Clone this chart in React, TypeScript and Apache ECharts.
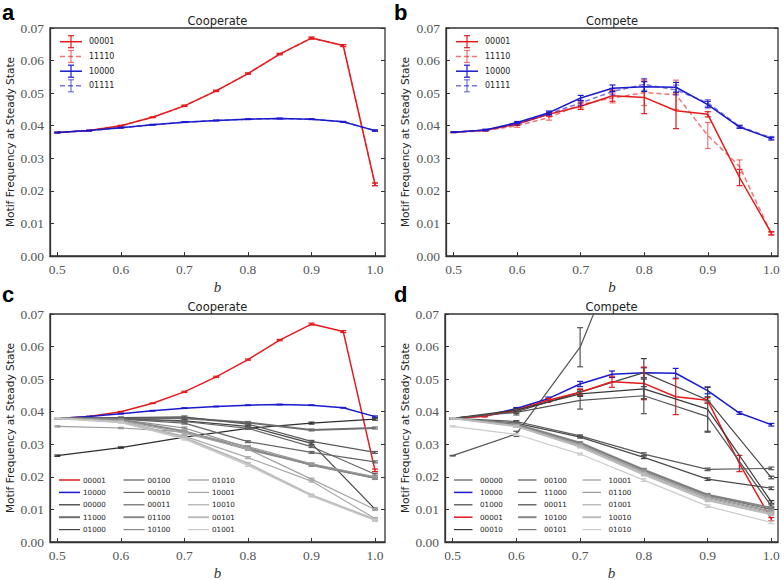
import React, { useEffect, useRef } from 'react';
import * as echarts from 'echarts';

// ---------- x positions ----------
const B_FINE = [0.5, 0.55, 0.6, 0.65, 0.7, 0.75, 0.8, 0.85, 0.9, 0.95, 1.0];
const B_COARSE = [0.5, 0.6, 0.7, 0.8, 0.9, 1.0];
const X_TICKS = [0.5, 0.6, 0.7, 0.8, 0.9, 1.0];

// ---------- panel a / c : Cooperate ----------
const coop_00001 = [0.0379, 0.0385, 0.0400, 0.0426, 0.0461, 0.0507, 0.0560, 0.0620, 0.0669, 0.0646, 0.0220];
const coop_00001_err = [0.0001, 0.0001, 0.0001, 0.0001, 0.0002, 0.0002, 0.0002, 0.0002, 0.0003, 0.0003, 0.0004];
const coop_11110 = [0.0379, 0.0385, 0.0400, 0.0426, 0.0461, 0.0507, 0.0560, 0.0620, 0.0669, 0.0646, 0.0220];
const coop_10000 = [0.0379, 0.0385, 0.0394, 0.0403, 0.0411, 0.0416, 0.0420, 0.0422, 0.0420, 0.0412, 0.0385];
const coop_10000_err = [0.0001, 0.0001, 0.0001, 0.0001, 0.0001, 0.0001, 0.0001, 0.0001, 0.0001, 0.0001, 0.0002];
const coop_01111 = [0.0379, 0.0385, 0.0394, 0.0403, 0.0411, 0.0416, 0.0420, 0.0422, 0.0420, 0.0412, 0.0385];

// panel c grey motifs (b = 0.5 .. 1.0 step 0.1)
const c_00000 = [0.0265, 0.0290, 0.0322, 0.0349, 0.0365, 0.0377];
const c_11000 = [0.0380, 0.0380, 0.0380, 0.0367, 0.0344, 0.0350];
const c_01000 = [0.0380, 0.0378, 0.0372, 0.0355, 0.0303, 0.0101];
const c_00100 = [0.0380, 0.0382, 0.0384, 0.0362, 0.0309, 0.0275];
const c_00010 = [0.0380, 0.0378, 0.0370, 0.0349, 0.0293, 0.0208];
const c_00011 = [0.0380, 0.0377, 0.0365, 0.0308, 0.0275, 0.0246];
const c_01100 = [0.0380, 0.0375, 0.0340, 0.0285, 0.0238, 0.0197];
const c_10100 = [0.0380, 0.0376, 0.0350, 0.0290, 0.0235, 0.0195];
const c_01010 = [0.0355, 0.0350, 0.0338, 0.0293, 0.0240, 0.0200];
const c_10001 = [0.0380, 0.0372, 0.0334, 0.0285, 0.0193, 0.0100];
const c_10010 = [0.0380, 0.0370, 0.0325, 0.0259, 0.0187, 0.0072];
const c_00101 = [0.0380, 0.0368, 0.0320, 0.0241, 0.0144, 0.0069];
const c_01001 = [0.0380, 0.0367, 0.0316, 0.0235, 0.0141, 0.0066];
const c_grey_err = [0.0002, 0.0002, 0.0003, 0.0003, 0.0003, 0.0003];

// ---------- panel b / d : Compete ----------
const comp_00001 = [0.0380, 0.0386, 0.0405, 0.0435, 0.0460, 0.0492, 0.0487, 0.0446, 0.0435, 0.0241, 0.0070];
const comp_00001_err = [0.0001, 0.0002, 0.0004, 0.0006, 0.0010, 0.0017, 0.0050, 0.0055, 0.0008, 0.0025, 0.0005];
const comp_11110 = [0.0380, 0.0385, 0.0400, 0.0425, 0.0465, 0.0485, 0.0502, 0.0495, 0.0370, 0.0275, 0.0068];
const comp_11110_err = [0.0001, 0.0002, 0.0005, 0.0008, 0.0010, 0.0015, 0.0040, 0.0045, 0.0040, 0.0020, 0.0004];
const comp_10000 = [0.0380, 0.0387, 0.0410, 0.0440, 0.0485, 0.0515, 0.0520, 0.0518, 0.0465, 0.0396, 0.0360];
const comp_10000_err = [0.0001, 0.0002, 0.0003, 0.0005, 0.0008, 0.0010, 0.0015, 0.0015, 0.0010, 0.0004, 0.0004];
const comp_01111 = [0.0380, 0.0387, 0.0405, 0.0437, 0.0470, 0.0505, 0.0527, 0.0510, 0.0470, 0.0398, 0.0363];
const comp_01111_err = [0.0001, 0.0002, 0.0003, 0.0005, 0.0008, 0.0010, 0.0018, 0.0015, 0.0010, 0.0004, 0.0004];

// panel d grey motifs
const d_00000_x = [0.5, 0.6, 0.7, 0.8];
const d_00000 = [0.0265, 0.0332, 0.0598, 0.1080];
const d_00000_err = [0.0001, 0.0008, 0.0060, 0];
const d_01000 = [0.0380, 0.0400, 0.0460, 0.0520, 0.0436, 0.0198];
const d_01000_err = [0.0002, 0.0005, 0.0008, 0.0043, 0.0010, 0.0004];
const d_00010 = [0.0380, 0.0405, 0.0455, 0.0470, 0.0408, 0.0123];
const d_00010_err = [0.0002, 0.0005, 0.0008, 0.0030, 0.0068, 0.0004];
const d_00100 = [0.0380, 0.0398, 0.0435, 0.0449, 0.0385, 0.0110];
const d_00100_err = [0.0002, 0.0008, 0.0027, 0.0055, 0.0048, 0.0004];
const d_11000 = [0.0380, 0.0370, 0.0326, 0.0270, 0.0223, 0.0226];
const d_00011 = [0.0380, 0.0365, 0.0322, 0.0260, 0.0193, 0.0165];
const d_10100 = [0.0380, 0.0362, 0.0305, 0.0222, 0.0145, 0.0105];
const d_00101 = [0.0380, 0.0360, 0.0303, 0.0220, 0.0143, 0.0100];
const d_10001 = [0.0380, 0.0358, 0.0300, 0.0217, 0.0140, 0.0095];
const d_01100 = [0.0380, 0.0357, 0.0298, 0.0214, 0.0137, 0.0092];
const d_01001 = [0.0380, 0.0356, 0.0295, 0.0210, 0.0133, 0.0088];
const d_10010 = [0.0380, 0.0355, 0.0292, 0.0207, 0.0128, 0.0085];
const d_01010 = [0.0355, 0.0330, 0.0270, 0.0190, 0.0110, 0.0060];
const d_grey_err = [0.0002, 0.0003, 0.0003, 0.0004, 0.0004, 0.0004];

const Y_TICKS = [0, 0.01, 0.02, 0.03, 0.04, 0.05, 0.06, 0.07];

// ---------- styling ----------
const RED = '#e41a1c';
const BLUE = '#1a1acc';
const RED_L = 'rgba(228,26,28,0.6)';
const BLUE_L = 'rgba(26,26,204,0.6)';
const AX = '#333';
const TICK_FONT = 'Liberation Serif';
const SANS = 'DejaVu Sans';

type S = { name: string; xs: number[]; ys: number[]; err: number[]; color: string; width: number; dashed?: boolean };

const GRIDS = [
  { left: 50, top: 28, width: 335, height: 228, xmin: 0.4885, xmax: 1.0157 },
  { left: 446, top: 28, width: 332, height: 228, xmin: 0.488, xmax: 1.0105 },
  { left: 50, top: 314, width: 335, height: 228, xmin: 0.4885, xmax: 1.0157 },
  { left: 445, top: 314, width: 333, height: 228, xmin: 0.488, xmax: 1.0105 },
];

const panelA: S[] = [
  { name: '00001', xs: B_FINE, ys: coop_00001, err: coop_00001_err, color: RED, width: 1.5 },
  { name: '11110', xs: B_FINE, ys: coop_11110, err: coop_00001_err, color: RED_L, width: 1.5, dashed: true },
  { name: '10000', xs: B_FINE, ys: coop_10000, err: coop_10000_err, color: BLUE, width: 1.5 },
  { name: '01111', xs: B_FINE, ys: coop_01111, err: coop_10000_err, color: BLUE_L, width: 1.5, dashed: true },
];
const panelB: S[] = [
  { name: '00001', xs: B_FINE, ys: comp_00001, err: comp_00001_err, color: RED, width: 1.5 },
  { name: '11110', xs: B_FINE, ys: comp_11110, err: comp_11110_err, color: RED_L, width: 1.5, dashed: true },
  { name: '10000', xs: B_FINE, ys: comp_10000, err: comp_10000_err, color: BLUE, width: 1.5 },
  { name: '01111', xs: B_FINE, ys: comp_01111, err: comp_01111_err, color: BLUE_L, width: 1.5, dashed: true },
];
const panelC: S[] = [
  { name: '00001', xs: B_FINE, ys: coop_00001, err: coop_00001_err, color: RED, width: 1.5 },
  { name: '10000', xs: B_FINE, ys: coop_10000, err: coop_10000_err, color: BLUE, width: 1.5 },
  { name: '00000', xs: B_COARSE, ys: c_00000, err: c_grey_err, color: '#2e2e2e', width: 1.2 },
  { name: '11000', xs: B_COARSE, ys: c_11000, err: c_grey_err, color: '#6e6e6e', width: 2 },
  { name: '01000', xs: B_COARSE, ys: c_01000, err: c_grey_err, color: '#444444', width: 1.2 },
  { name: '00100', xs: B_COARSE, ys: c_00100, err: c_grey_err, color: '#5a5a5a', width: 1.2 },
  { name: '00010', xs: B_COARSE, ys: c_00010, err: c_grey_err, color: '#666666', width: 1.2 },
  { name: '00011', xs: B_COARSE, ys: c_00011, err: c_grey_err, color: '#666666', width: 1.2 },
  { name: '01100', xs: B_COARSE, ys: c_01100, err: c_grey_err, color: '#8a8a8a', width: 2 },
  { name: '10100', xs: B_COARSE, ys: c_10100, err: c_grey_err, color: '#8a8a8a', width: 1.2 },
  { name: '01010', xs: B_COARSE, ys: c_01010, err: c_grey_err, color: '#999999', width: 1.2 },
  { name: '10001', xs: B_COARSE, ys: c_10001, err: c_grey_err, color: '#a5a5a5', width: 1.2 },
  { name: '10010', xs: B_COARSE, ys: c_10010, err: c_grey_err, color: '#aaaaaa', width: 1.2 },
  { name: '00101', xs: B_COARSE, ys: c_00101, err: c_grey_err, color: '#bbbbbb', width: 2 },
  { name: '01001', xs: B_COARSE, ys: c_01001, err: c_grey_err, color: '#c8c8c8', width: 1.2 },
];
const panelD: S[] = [
  { name: '00000', xs: d_00000_x, ys: d_00000, err: d_00000_err, color: '#555555', width: 1.2 },
  { name: '10000', xs: B_FINE, ys: comp_10000, err: comp_10000_err, color: BLUE, width: 1.5 },
  { name: '01000', xs: B_COARSE, ys: d_01000, err: d_01000_err, color: '#444444', width: 1.2 },
  { name: '00001', xs: B_FINE, ys: comp_00001, err: comp_00001_err, color: RED, width: 1.5 },
  { name: '00010', xs: B_COARSE, ys: d_00010, err: d_00010_err, color: '#3a3a3a', width: 1.2 },
  { name: '00100', xs: B_COARSE, ys: d_00100, err: d_00100_err, color: '#555555', width: 1.2 },
  { name: '11000', xs: B_COARSE, ys: d_11000, err: d_grey_err, color: '#5a5a5a', width: 1.2 },
  { name: '00011', xs: B_COARSE, ys: d_00011, err: d_grey_err, color: '#4a4a4a', width: 1.2 },
  { name: '10100', xs: B_COARSE, ys: d_10100, err: d_grey_err, color: '#888888', width: 2 },
  { name: '00101', xs: B_COARSE, ys: d_00101, err: d_grey_err, color: '#777777', width: 1.2 },
  { name: '10001', xs: B_COARSE, ys: d_10001, err: d_grey_err, color: '#999999', width: 1.2 },
  { name: '01100', xs: B_COARSE, ys: d_01100, err: d_grey_err, color: '#999999', width: 1.2 },
  { name: '01001', xs: B_COARSE, ys: d_01001, err: d_grey_err, color: '#aaaaaa', width: 1.2 },
  { name: '10010', xs: B_COARSE, ys: d_10010, err: d_grey_err, color: '#bbbbbb', width: 2 },
  { name: '01010', xs: B_COARSE, ys: d_01010, err: d_grey_err, color: '#cccccc', width: 1.2 },
];

function buildSeries(k: number, list: S[]) {
  const out: any[] = [];
  list.forEach((s, idx) => {
    out.push({
      type: 'line',
      name: s.name + '_' + k,
      xAxisIndex: k,
      yAxisIndex: 2 * k,
      data: s.xs.map((x, i) => [x, s.ys[i]]),
      symbol: 'none',
      silent: true,
      clip: true,
      z: 2 + idx * 0.01,
      lineStyle: { color: s.color, width: s.width, type: s.dashed ? [5, 3] : 'solid' },
      itemStyle: { color: s.color },
    });
    const color = s.color;
    out.push({
      type: 'custom',
      name: s.name + '_err_' + k,
      xAxisIndex: k,
      yAxisIndex: 2 * k,
      coordinateSystem: 'cartesian2d',
      silent: true,
      clip: true,
      z: 2 + idx * 0.01,
      encode: { x: 0, y: [1, 2] },
      data: s.xs
        .map((x, i) => [x, s.ys[i] - s.err[i], s.ys[i] + s.err[i]])
        .filter((_, i) => s.err[i] > 0),
      renderItem: (params: any, api: any) => {
        const x = api.value(0);
        const p1 = api.coord([x, api.value(2)]);
        const p2 = api.coord([x, api.value(1)]);
        const w = 3;
        const st = { stroke: color, lineWidth: 1.2 };
        return {
          type: 'group',
          children: [
            { type: 'line', shape: { x1: p1[0], y1: p1[1], x2: p2[0], y2: p2[1] }, style: st },
            { type: 'line', shape: { x1: p1[0] - w, y1: p1[1], x2: p1[0] + w, y2: p1[1] }, style: st },
            { type: 'line', shape: { x1: p2[0] - w, y1: p2[1], x2: p2[0] + w, y2: p2[1] }, style: st },
          ],
        };
      },
    });
  });
  return out;
}

function txt(x: number, y: number, text: string, font: string, fill: string, align = 'left', valign = 'middle', rotation = 0) {
  return {
    type: 'text',
    x,
    y,
    rotation,
    silent: true,
    z: 10,
    style: { text, font, fill, textAlign: align, textVerticalAlign: valign },
  };
}
function ln(x1: number, y1: number, x2: number, y2: number, color: string, width: number, dashed = false) {
  return {
    type: 'line',
    silent: true,
    z: 10,
    shape: { x1, y1, x2, y2 },
    style: { stroke: color, lineWidth: width, lineDash: dashed ? [5, 3] : null },
  };
}

function smallLegend(list: S[], lineX: number, textX: number) {
  const rows = [41.7, 56.5, 71.2, 85.8];
  const els: any[] = [];
  list.forEach((s, i) => {
    const y = rows[i];
    els.push(ln(lineX, y, lineX + 22, y, s.color, 1.5, !!s.dashed));
    const xm = lineX + 11;
    els.push(ln(xm, y - 6, xm, y + 6, s.color, 1.2));
    els.push(ln(xm - 3, y - 6, xm + 3, y - 6, s.color, 1.2));
    els.push(ln(xm - 3, y + 6, xm + 3, y + 6, s.color, 1.2));
    els.push(txt(textX, y, s.name, '8px "' + SANS + '"', '#222'));
  });
  return els;
}

function bigLegend(list: S[], cols: number[], len: number, textOff: number) {
  const rows = [480, 492.4, 504.8, 517.2, 529.6];
  const els: any[] = [];
  list.forEach((s, i) => {
    const c = Math.floor(i / 5);
    const r = i % 5;
    const y = rows[r];
    const x = cols[c];
    els.push(ln(x, y, x + len, y, s.color, s.width));
    els.push(txt(x + textOff, y, s.name, '7.2px "' + SANS + '"', '#222'));
  });
  return els;
}

const App: React.FC = () => {
  const ref = useRef<HTMLDivElement>(null);
  useEffect(() => {
    document.body.style.margin = '0';
    if (!ref.current) return;
    const chart = echarts.init(ref.current, undefined, { renderer: 'svg' });

    const grid = GRIDS.map((g) => ({
      left: g.left,
      top: g.top,
      width: g.width,
      height: g.height,
      show: true,
      borderColor: AX,
      borderWidth: 1.3,
      backgroundColor: 'transparent',
      containLabel: false,
    }));
    const xAxis = GRIDS.map((g, k) => ({
      type: 'value',
      gridIndex: k,
      min: g.xmin,
      max: g.xmax,
      axisLine: { show: true, lineStyle: { color: AX, width: 1.3 } },
      axisTick: { show: true, inside: true, length: 4, customValues: X_TICKS, lineStyle: { color: AX } },
      axisLabel: {
        show: true,
        customValues: X_TICKS,
        formatter: (v: number) => v.toFixed(1),
        fontFamily: TICK_FONT,
        fontSize: 13.5,
        color: '#555',
        margin: 6,
      },
      splitLine: { show: false },
    }));
    const yAxis: any[] = [];
    GRIDS.forEach((g, k) => {
      yAxis.push({
        type: 'value',
        gridIndex: k,
        position: 'left',
        min: 0,
        max: 0.07,
        interval: 0.01,
        axisLine: { show: true, lineStyle: { color: AX, width: 1.3 } },
        axisTick: { show: true, inside: true, length: 4, lineStyle: { color: AX } },
        axisLabel: {
          show: true,
          formatter: (v: number) => v.toFixed(2),
          fontFamily: TICK_FONT,
          fontSize: 13.5,
          color: '#555',
          margin: 6,
        },
        splitLine: { show: false },
      });
      yAxis.push({
        type: 'value',
        gridIndex: k,
        position: 'right',
        min: 0,
        max: 0.07,
        interval: 0.01,
        axisLine: { show: false },
        axisTick: { show: true, inside: true, length: 4, lineStyle: { color: AX } },
        axisLabel: { show: false },
        splitLine: { show: false },
      });
    });

    const series = [
      ...buildSeries(0, panelA),
      ...buildSeries(1, panelB),
      ...buildSeries(2, panelC),
      ...buildSeries(3, panelD),
    ];

    const titleFont = '11.5px "' + SANS + '"';
    const ylabFont = '10.6px "' + SANS + '"';
    const letterFont = 'bold 22px "Liberation Sans"';
    const bFont = 'italic 15px "' + TICK_FONT + '"';
    const YLAB = 'Motif Frequency at Steady State';

    const graphic: any[] = [
      txt(2, 12, 'a', letterFont, '#000', 'left', 'middle'),
      txt(394, 12, 'b', letterFont, '#000', 'left', 'middle'),
      txt(2, 294, 'c', letterFont, '#000', 'left', 'middle'),
      txt(394, 294, 'd', letterFont, '#000', 'left', 'middle'),
      txt(217.5, 20.5, 'Cooperate', titleFont, '#222', 'center', 'middle'),
      txt(612, 20.5, 'Compete', titleFont, '#222', 'center', 'middle'),
      txt(217.5, 306.5, 'Cooperate', titleFont, '#222', 'center', 'middle'),
      txt(611.5, 306.5, 'Compete', titleFont, '#222', 'center', 'middle'),
      txt(10, 142, YLAB, ylabFont, '#222', 'center', 'middle', Math.PI / 2),
      txt(405, 142, YLAB, ylabFont, '#222', 'center', 'middle', Math.PI / 2),
      txt(10, 428, YLAB, ylabFont, '#222', 'center', 'middle', Math.PI / 2),
      txt(405, 428, YLAB, ylabFont, '#222', 'center', 'middle', Math.PI / 2),
      txt(217.5, 287, 'b', bFont, '#333', 'center', 'middle'),
      txt(612, 287, 'b', bFont, '#333', 'center', 'middle'),
      txt(217.5, 573, 'b', bFont, '#333', 'center', 'middle'),
      txt(611.5, 573, 'b', bFont, '#333', 'center', 'middle'),
      ...smallLegend(panelA, 60, 89),
      ...smallLegend(panelB, 456, 485),
      ...bigLegend(panelC, [59, 123.5, 188], 21, 24),
      ...bigLegend(panelD, [454, 518, 582.5], 18.5, 26),
    ];

    chart.setOption({
      animation: false,
      backgroundColor: '#fff',
      grid,
      xAxis,
      yAxis,
      series,
      graphic,
    });
    return () => chart.dispose();
  }, []);
  return <div ref={ref} style={{ width: 784, height: 580 }} />;
};

export default App;
